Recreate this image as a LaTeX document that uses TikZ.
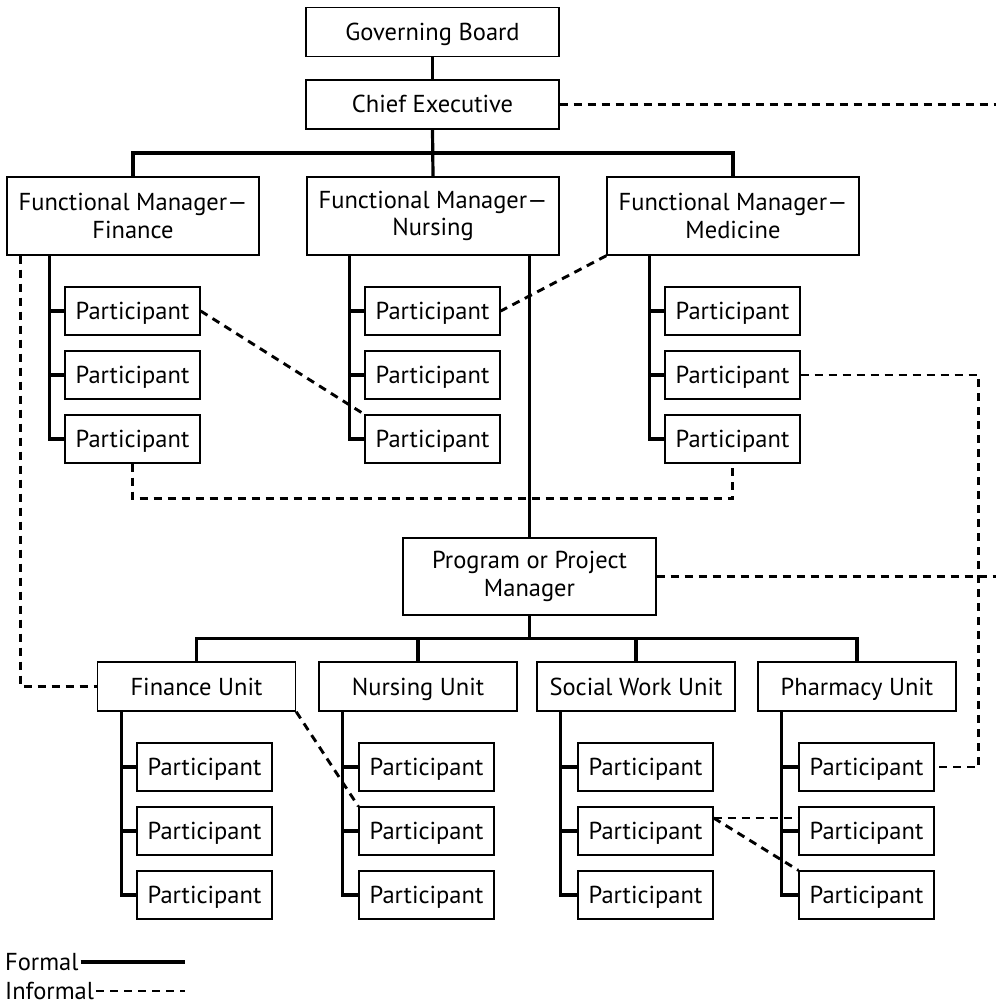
\documentclass[tikz,border=0pt]{standalone}
\usepackage{fontspec}
\setmainfont{PT Sans}
\usetikzlibrary{calc}
\begin{document}
\begin{tikzpicture}[x=1pt,y=-1pt,
  box/.style={draw,line width=1.4pt,inner sep=0pt,align=center,font=\fontsize{24.5}{27.5}\selectfont},
  one/.style={text height=17pt,text depth=0pt},
  big/.style={box,minimum width=253pt,minimum height=49pt},
  fm/.style={box,minimum width=252pt,minimum height=78pt},
  part/.style={box,one,minimum width=135pt,minimum height=48pt},
  unit/.style={box,one,minimum width=198pt,minimum height=49pt},
  formal/.style={line width=3.2pt},
  informal/.style={line width=2.9pt,dash pattern=on 8pt off 6pt},
  legend/.style={inner sep=0pt,anchor=west,font=\fontsize{24.5}{27.5}\selectfont}]
\useasboundingbox (0,0) rectangle (996,1006);
\coordinate (edge) at (996,0);
% top
\node[big,one] (gb) at (432.5,32) {Governing Board};
\node[big,one] (ce) at (432.5,104.5) {Chief Executive};
\node[fm] (fmf) at (133,216) {Functional Manager---\\Finance};
\node[fm] (fmn) at (433,216) {Functional Manager---\\Nursing};
\node[fm] (fmm) at (733,216) {Functional Manager---\\Medicine};
\foreach \n/\x in {f/132.5,n/432.5,m/732.5}{
  \node[part] (\n p1) at (\x,311) {Participant};
  \node[part] (\n p2) at (\x,375) {Participant};
  \node[part] (\n p3) at (\x,439) {Participant};
}
\node[big,minimum height=77pt] (pm) at (529.5,576.5) {Program or Project\\Manager};
\node[unit] (fu) at (196.5,686.5) {Finance Unit};
\node[unit] (nu) at (418,686.5) {Nursing Unit};
\node[unit] (su) at (636,686.5) {Social Work Unit};
\node[unit] (pu) at (857,686.5) {Pharmacy Unit};
\foreach \n/\x in {fq/204.5,nq/426.5,sq/645.5,pq/866.5}{
  \node[part] (\n1) at (\x,767) {Participant};
  \node[part] (\n2) at (\x,831) {Participant};
  \node[part] (\n3) at (\x,895) {Participant};
}
% formal connectors
\draw[formal] (gb) -- (ce);
\draw[formal] (ce.south) -- (fmn.north);
\coordinate (bus1) at ($(ce.south)!0.5!(fmn.north)$);
\draw[formal] (fmf.north) |- (bus1) -| (fmm.north);
\foreach \m/\n in {fmf/f,fmn/n,fmm/m}{
  \draw[formal] ([xshift=43pt]\m.south west) |- (\n p3.west);
  \draw[formal] (\n p1.west) -- ++(-15,0);
  \draw[formal] (\n p2.west) -- ++(-15,0);
}
\draw[formal] (fmn.south -| pm.north) -- (pm.north);
\draw[formal] (pm.south) -- ++(0,23) coordinate (bus2);
\draw[formal] (fu.north) |- (bus2) -| (pu.north);
\draw[formal] (nu.north) -- (nu.north |- bus2);
\draw[formal] (su.north) -- (su.north |- bus2);
\foreach \u/\n in {fu/fq,nu/nq,su/sq,pu/pq}{
  \draw[formal] ([xshift=24.5pt]\u.south west) |- (\n3.west);
  \draw[formal] (\n1.west) -- ++(-15,0);
  \draw[formal] (\n2.west) -- ++(-15,0);
}
% informal connectors
\draw[informal] (ce.east) -- (ce.east -| edge);
\draw[informal] (pm.east) -- (pm.east -| edge);
\draw[informal] ([xshift=14pt]fmf.south west) |- (fu.west);
\draw[informal] (fp1.east) -- (np3.north west);
\draw[informal] (fmm.south west) -- (np1.east);
\draw[informal] (fp3.south) -- ++(0,35) -| (mp3.south);
\draw[informal] (mp2.east) -- ++(178,0) |- (pq1.east);
\draw[informal] (fu.south east) -- (nq2.north west);
\draw[informal] ([yshift=13pt]sq2.east) -- ([yshift=13pt]sq2.east -| pq2.west);
\draw[informal] ([yshift=13pt]sq2.east) -- (pq3.north west);
% legend
\node[legend] (lf) at (5,962) {Formal};
\node[legend] (li) at (5,991) {Informal};
\coordinate (lend) at (185,0);
\draw[formal] ([xshift=2pt]lf.east) -- (lf.east -| lend);
\draw[informal] ([xshift=2pt]li.east) -- (li.east -| lend);
\end{tikzpicture}
\end{document}
